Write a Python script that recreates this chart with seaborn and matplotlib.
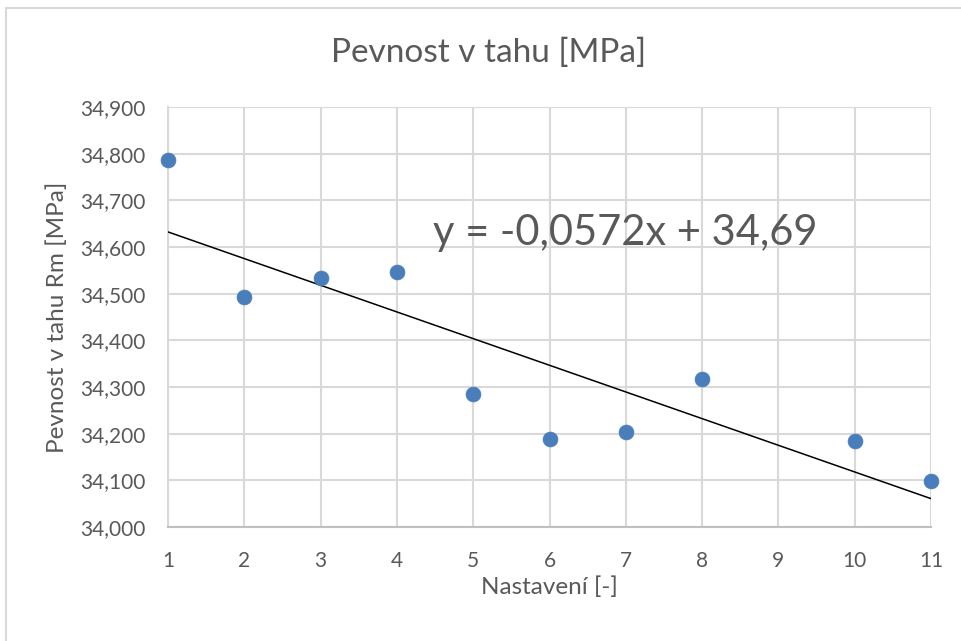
import numpy as np
import pandas as pd
import matplotlib
matplotlib.use("Agg")
import matplotlib.pyplot as plt
from matplotlib.ticker import FuncFormatter, MultipleLocator
from matplotlib.lines import Line2D
import seaborn as sns

# Data
nastaveni = [1, 2, 3, 4, 5, 6, 7, 8, 10, 11]
pevnost = [34.786, 34.493, 34.534, 34.546, 34.285, 34.189, 34.204, 34.317, 34.184, 34.099]
x_ticks = [1, 2, 3, 4, 5, 6, 7, 8, 9, 10, 11]
title = "Pevnost v tahu [MPa]"
x_label = "Nastavení [-]"
y_label = "Pevnost v tahu Rm [MPa]"
equation = "y = -0,0572x + 34,69"

df = pd.DataFrame({"x": nastaveni, "y": pevnost})
slope, intercept = np.polyfit(df["x"], df["y"], 1)
trend = pd.DataFrame({"x": [x_ticks[0], x_ticks[-1]]})
trend["y"] = slope * trend["x"] + intercept

sns.set_theme(style="white")
plt.rcParams["font.family"] = ["Lato", "DejaVu Sans"]

txt = "#595959"
grid = "#D9D9D9"

fig = plt.figure(figsize=(9.61, 6.41), dpi=100)
ax = fig.add_axes([168 / 961, 1 - 527 / 641, (931 - 168) / 961, (527 - 107) / 641])

ax.grid(True, color=grid, linewidth=1.5, zorder=0)
ax.set_axisbelow(True)

sns.lineplot(data=trend, x="x", y="y", ax=ax, color="black", linewidth=1.1, zorder=3)
sns.scatterplot(data=df, x="x", y="y", ax=ax, color="#4A7EBB", s=115,
                edgecolor="#4A7EBB", linewidth=0.5, zorder=4, clip_on=False)

ax.set_xlim(1, 11)
ax.set_ylim(34.0, 34.9)
ax.set_xticks(x_ticks)
ax.yaxis.set_major_locator(MultipleLocator(0.1))
ax.yaxis.set_major_formatter(FuncFormatter(lambda v, p: f"{v:.3f}".replace(".", ",")))
ax.tick_params(axis="both", length=0, labelsize=15, colors=txt)
ax.tick_params(axis="y", pad=16)
ax.tick_params(axis="x", pad=17)

for s in ["top", "right"]:
    ax.spines[s].set_visible(False)
ax.spines["left"].set_color(grid)
ax.spines["left"].set_linewidth(1.5)
ax.spines["bottom"].set_color("#BFBFBF")
ax.spines["bottom"].set_linewidth(1.5)

ax.set_xlabel(x_label, fontsize=17.5, color=txt, labelpad=4)
ax.set_ylabel(y_label, fontsize=17.5, color=txt, labelpad=9)

fig.text(489 / 961, 1 - 53 / 641, title, fontsize=24, color=txt, ha="center", va="center")
fig.text(625 / 961, 1 - 233 / 641, equation, fontsize=30, color=txt, ha="center", va="center")

# figure border
fig.add_artist(Line2D([5.5 / 961, 5.5 / 961], [0, 1 - 7.5 / 641], transform=fig.transFigure,
                      color=grid, linewidth=1.5))
fig.add_artist(Line2D([5.5 / 961, 1], [1 - 7.5 / 641, 1 - 7.5 / 641], transform=fig.transFigure,
                      color=grid, linewidth=1.5))

fig.savefig("out.png", dpi=100, facecolor="white")
